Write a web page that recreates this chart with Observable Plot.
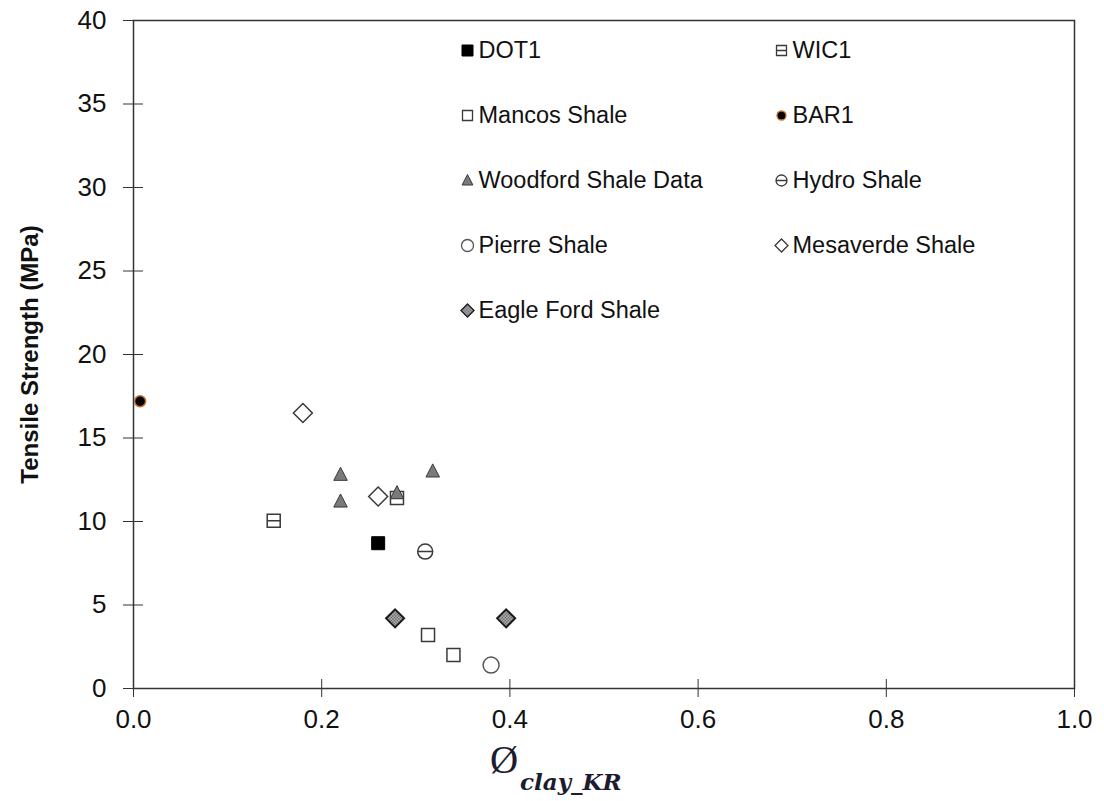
<!DOCTYPE html>
<html><head><meta charset="utf-8">
<script src="https://cdn.jsdelivr.net/npm/d3@7"></script>
<script src="https://cdn.jsdelivr.net/npm/@observablehq/plot@0.6"></script>
<style>body{margin:0;background:#fff;}</style>
</head><body><div id="chart"></div>
<script>
// ---- data ----
const seriesNames = ["DOT1","WIC1","Mancos Shale","BAR1","Woodford Shale Data","Hydro Shale","Pierre Shale","Mesaverde Shale","Eagle Ford Shale"];
const dot1X = [0.26],               dot1Y = [8.7];
const wic1X = [0.149, 0.28],        wic1Y = [10.05, 11.4];
const mancosX = [0.313, 0.34],      mancosY = [3.2, 2.0];
const bar1X = [0.007],              bar1Y = [17.2];
const woodfordX = [0.22, 0.22, 0.28, 0.318], woodfordY = [12.8, 11.2, 11.7, 13.0];
const hydroX = [0.31],              hydroY = [8.2];
const pierreX = [0.38],             pierreY = [1.4];
const mesaverdeX = [0.18, 0.26],    mesaverdeY = [16.5, 11.5];
const eagleX = [0.278, 0.396],      eagleY = [4.2, 4.2];
const xTicks = [0, 0.2, 0.4, 0.6, 0.8, 1.0];
const yTicks = [0, 5, 10, 15, 20, 25, 30, 35, 40];
const yTitle = "Tensile Strength (MPa)";
const xLabelMain = "Ø";
const xLabelSub = "clay_KR";

// ---- symbols ----
const rad = s => Math.sqrt(s / Math.PI);
const sq = {draw(c, s){const r = rad(s); c.rect(-r, -r, 2*r, 2*r);}};
const sqLine = {draw(c, s){const r = rad(s); c.rect(-r, -r, 2*r, 2*r); c.moveTo(-r, 0); c.lineTo(r, 0);}};
const circ = {draw(c, s){const r = rad(s); c.moveTo(r, 0); c.arc(0, 0, r, 0, 2*Math.PI);}};
const circLine = {draw(c, s){const r = rad(s); c.moveTo(r, 0); c.arc(0, 0, r, 0, 2*Math.PI); c.moveTo(-r, 0); c.lineTo(r, 0);}};
const tri = {draw(c, s){const r = rad(s); c.moveTo(0, -r); c.lineTo(r*0.9, r*0.75); c.lineTo(-r*0.9, r*0.75); c.closePath();}};
const diam = {draw(c, s){const r = rad(s); c.moveTo(0, -r); c.lineTo(r, 0); c.lineTo(0, r); c.lineTo(-r, 0); c.closePath();}};

const seriesData = [
  [dot1X, dot1Y], [wic1X, wic1Y], [mancosX, mancosY], [bar1X, bar1Y],
  [woodfordX, woodfordY], [hydroX, hydroY], [pierreX, pierreY],
  [mesaverdeX, mesaverdeY], [eagleX, eagleY]
];
const styles = [
  {symbol: sq,       r: 6.5, lr: 5.5, fill: "#000",  stroke: "#000",    strokeWidth: 1},
  {symbol: sqLine,   r: 6.5, lr: 5,   fill: "#fff",  stroke: "#3a3a3a", strokeWidth: 1.5},
  {symbol: sq,       r: 6.5, lr: 5,   fill: "#fff",  stroke: "#3a3a3a", strokeWidth: 1.5},
  {symbol: circ,     r: 5.5, lr: 4.5, fill: "#000",  stroke: "#c8702a", strokeWidth: 1.5},
  {symbol: tri,      r: 7.5, lr: 6,   fill: "#7a7a7a", stroke: "#3a3a3a", strokeWidth: 1},
  {symbol: circLine, r: 7.5, lr: 5.5, fill: "#fff",  stroke: "#3a3a3a", strokeWidth: 1.5},
  {symbol: circ,     r: 8,   lr: 6,   fill: "#fff",  stroke: "#555",    strokeWidth: 1.5},
  {symbol: diam,     r: 9.5, lr: 6.5, fill: "#fff",  stroke: "#3a3a3a", strokeWidth: 1.5},
  {symbol: diam,     r: 9,   lr: 6.5, fill: "url(#eagleHatch)", stroke: "#1a1a1a", strokeWidth: 2}
];

const marks = [];
seriesData.forEach(([xs, ys], i) => {
  const st = styles[i];
  marks.push(Plot.dot(xs.map((x, j) => ({x, y: ys[j]})), {
    x: "x", y: "y", symbol: st.symbol, r: st.r, fill: st.fill, stroke: st.stroke, strokeWidth: st.strokeWidth
  }));
});

// legend inside the frame (two columns)
seriesNames.forEach((name, i) => {
  const st = styles[i];
  const col = i % 2, row = Math.floor(i / 2);
  const dx = 334 + col * 314, dy = 30 + row * 65;
  marks.push(Plot.dot([name], {frameAnchor: "top-left", dx, dy, symbol: st.symbol, r: st.lr,
    fill: st.fill, stroke: st.stroke, strokeWidth: Math.min(st.strokeWidth, 1.3)}));
  marks.push(Plot.text([name], {frameAnchor: "top-left", dx: dx + 11, dy, text: d => d,
    textAnchor: "start", lineAnchor: "middle", fontSize: 23.5, fill: "#111"}));
});

const chart = Plot.plot({
  width: 1104, height: 801,
  marginLeft: 133, marginRight: 30, marginTop: 20, marginBottom: 113,
  style: {fontFamily: "'Liberation Sans', Arial, sans-serif", color: "#111", background: "#fff"},
  x: {domain: [0, 1]},
  y: {domain: [0, 40]},
  marks: [
    Plot.axisX({ticks: xTicks, tickFormat: d3.format(".1f"), tickSize: 18, dy: -9, tickPadding: 12,
      fontSize: 26, stroke: "#333", label: null}),
    Plot.axisY({ticks: yTicks, tickFormat: d3.format("d"), tickSize: 20, dx: 10, tickPadding: 17,
      fontSize: 26, stroke: "#333", label: null}),
    Plot.frame({stroke: "#333", strokeWidth: 1.5}),
    ...marks,
    Plot.text([yTitle], {frameAnchor: "left", dx: -103, rotate: -90, text: d => d, textAnchor: "middle",
      fontWeight: "bold", fontSize: 24, fill: "#111"}),
    Plot.text([xLabelMain], {frameAnchor: "bottom", dx: -100, dy: 84, text: d => d,
      fontSize: 39, fontFamily: "'Liberation Serif', 'DejaVu Serif', serif", fill: "#1c1c30"}),
    Plot.text([xLabelSub], {frameAnchor: "bottom", dx: -84, dy: 101, text: d => d, textAnchor: "start",
      fontSize: 23, fontStyle: "italic", fontWeight: "bold", fontFamily: "'DejaVu Serif', 'Liberation Serif', serif", fill: "#1c1c30"})
  ]
});

// pattern for Eagle Ford fill
const defs = d3.select(chart).insert("defs", ":first-child");
const pat = defs.append("pattern").attr("id", "eagleHatch").attr("width", 3).attr("height", 3)
  .attr("patternUnits", "userSpaceOnUse");
pat.append("rect").attr("width", 3).attr("height", 3).attr("fill", "#d8d8d8");
pat.append("rect").attr("width", 1.5).attr("height", 1.5).attr("fill", "#444");
pat.append("rect").attr("x", 1.5).attr("y", 1.5).attr("width", 1.5).attr("height", 1.5).attr("fill", "#444");

document.getElementById("chart").appendChild(chart);
</script>
</body></html>
